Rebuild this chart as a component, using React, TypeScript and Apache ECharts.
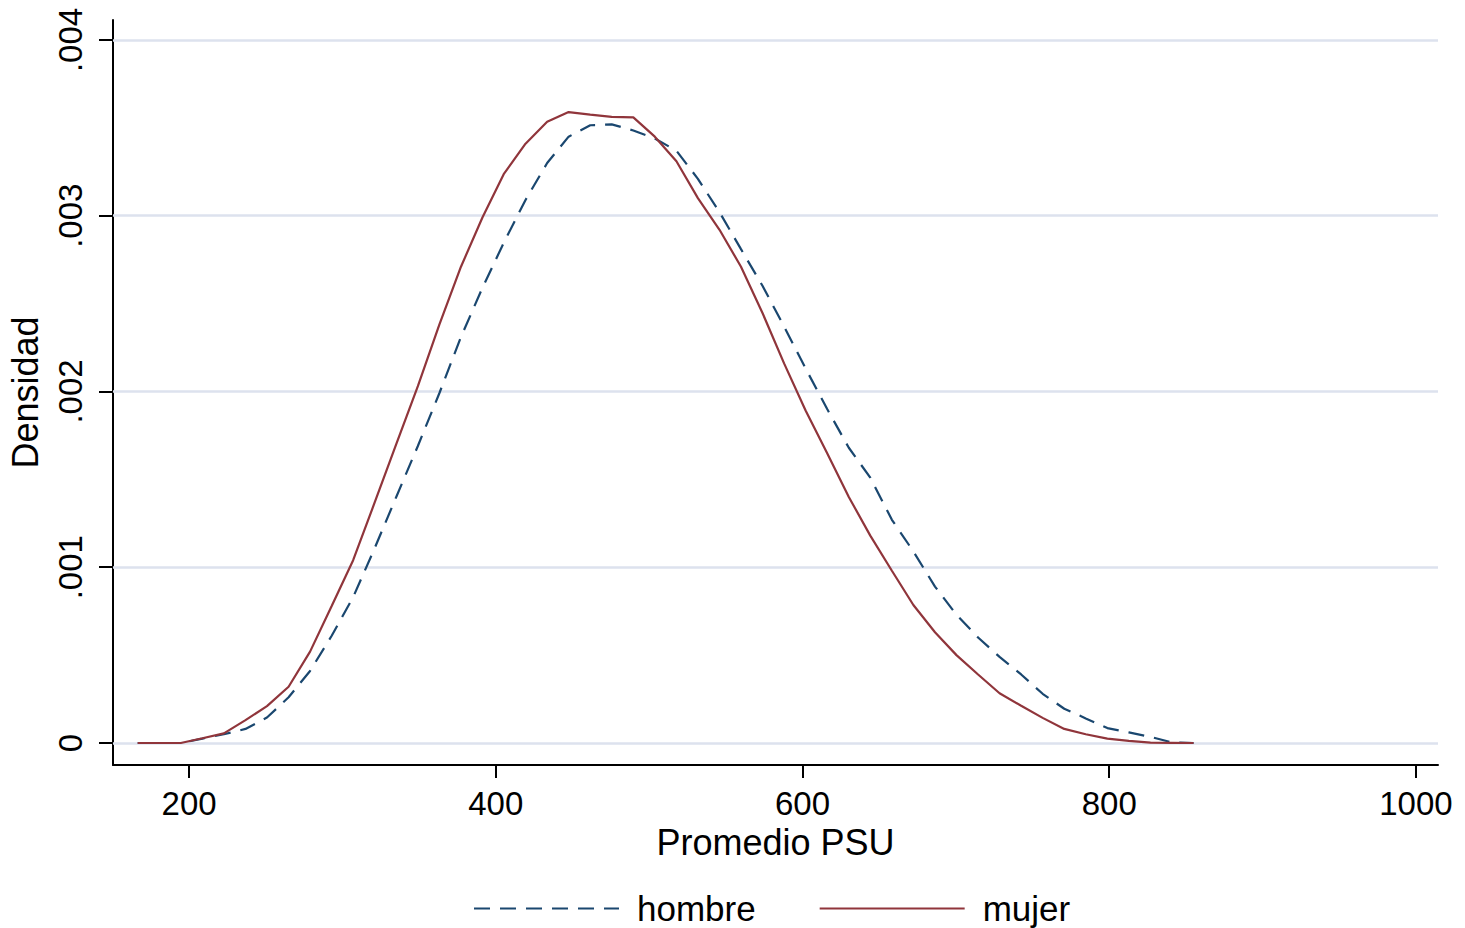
import React, { useEffect, useRef } from "react";
import * as echarts from "echarts";

// Kernel density evaluation points (Promedio PSU)
const psuPoints: number[] = [
  166.5, 180.6, 194.6, 208.7, 222.7, 236.8, 250.8, 264.9, 278.9, 293.0,
  307.0, 321.1, 335.1, 349.2, 363.2, 377.3, 391.3, 405.4, 419.4, 433.5,
  447.5, 461.6, 475.6, 489.7, 503.7, 517.8, 531.8, 545.9, 559.9, 574.0,
  588.0, 602.1, 616.1, 630.2, 644.2, 658.3, 672.3, 686.4, 700.4, 714.5,
  728.5, 742.6, 756.6, 770.7, 784.7, 798.8, 812.8, 826.9, 840.9, 855.0,
];

// Density, hombre
const hombreDensity: number[] = [
  0, 0, 0, 0.000025, 0.00005, 0.00008, 0.000145, 0.00026, 0.00041, 0.00061,
  0.00083, 0.00111, 0.0014, 0.00169, 0.00199, 0.00231, 0.00259, 0.00285, 0.00309, 0.0033,
  0.00345, 0.003515, 0.00352, 0.003485, 0.00344, 0.00337, 0.00321, 0.00302, 0.00281, 0.0026,
  0.00237, 0.00213, 0.0019, 0.00168, 0.00151, 0.00127, 0.00109, 0.00089, 0.00073, 0.0006,
  0.00049, 0.00039, 0.00028, 0.000195, 0.00014, 0.000085, 0.00006, 0.000035, 0.000003, 0,
];

// Density, mujer
const mujerDensity: number[] = [
  0, 0, 0, 0.000027, 0.000055, 0.00013, 0.00021, 0.00032, 0.00052, 0.00078,
  0.00104, 0.00137, 0.0017, 0.00203, 0.00238, 0.00271, 0.00299, 0.00324, 0.00341, 0.003535,
  0.00359, 0.003575, 0.003563, 0.00356, 0.00345, 0.00331, 0.0031, 0.00292, 0.00271, 0.002445,
  0.00216, 0.00189, 0.001648, 0.0014, 0.00118, 0.00098, 0.000785, 0.00063, 0.0005, 0.00039,
  0.000283, 0.000212, 0.000143, 0.00008, 0.00005, 0.000025, 0.000012, 0.000002, 0.000001, 0,
];

const xTickValues: number[] = [200, 400, 600, 800, 1000];
const yTickValues: number[] = [0, 0.001, 0.002, 0.003, 0.004];
const seriesNames: string[] = ["hombre", "mujer"];

const FONT = "'Liberation Sans', Arial, Helvetica, sans-serif";
const NAVY = "#1a476f";
const MAROON = "#90353b";

export default function App() {
  const ref = useRef<HTMLDivElement>(null);

  useEffect(() => {
    if (!ref.current) return;
    const chart = echarts.init(ref.current, undefined, { renderer: "svg" });

    const hombreData = psuPoints.map((x, i) => [x, hombreDensity[i]]);
    const mujerData = psuPoints.map((x, i) => [x, mujerDensity[i]]);

    const fmtY = (v: number) => {
      if (Math.abs(v) < 1e-12) return "0";
      return v.toFixed(3).replace(/^0/, "");
    };

    chart.setOption({
      animation: false,
      backgroundColor: "#ffffff",
      textStyle: { fontFamily: FONT },
      grid: {
        left: 113,
        right: 27,
        top: 20,
        bottom: 163,
        containLabel: false,
        outerBoundsMode: "none",
      },
      legend: {
        data: seriesNames,
        left: 468,
        top: 886,
        itemWidth: 145,
        itemHeight: 20,
        itemGap: 63,
        itemStyle: { opacity: 0 },
        textStyle: {
          fontFamily: FONT,
          fontSize: 35,
          color: "#000",
          padding: [0, 0, 0, 13],
        },
      },
      xAxis: {
        type: "value",
        min: 150.4,
        max: 1014.4,
        name: "Promedio PSU",
        nameLocation: "middle",
        nameGap: 58,
        nameTextStyle: { fontFamily: FONT, fontSize: 36, color: "#000" },
        axisLine: { show: true, onZero: false, lineStyle: { color: "#000", width: 2 } },
        axisTick: {
          show: true,
          length: 13,
          customValues: xTickValues,
          lineStyle: { color: "#000", width: 2 },
        },
        axisLabel: {
          customValues: xTickValues,
          fontFamily: FONT,
          fontSize: 33,
          color: "#000",
          margin: 22,
          formatter: (v: number) => String(v),
        },
        splitLine: { show: false },
      },
      yAxis: {
        type: "value",
        min: -0.0001252,
        max: 0.0041138,
        name: "Densidad",
        nameLocation: "middle",
        nameGap: 70,
        nameTextStyle: { fontFamily: FONT, fontSize: 36, color: "#000" },
        axisLine: { show: true, onZero: false, lineStyle: { color: "#000", width: 2 } },
        axisTick: {
          show: true,
          length: 14,
          customValues: yTickValues,
          lineStyle: { color: "#000", width: 2 },
        },
        axisLabel: {
          customValues: yTickValues,
          rotate: 90,
          fontFamily: FONT,
          fontSize: 33,
          color: "#000",
          margin: 26,
          formatter: fmtY,
        },
        splitLine: { show: false },
      },
      series: [
        {
          name: seriesNames[0],
          type: "line",
          data: hombreData,
          symbol: "none",
          z: 10,
          color: NAVY,
          lineStyle: { color: NAVY, width: 2.2, type: [16, 10] },
          markLine: {
            silent: true,
            z: 1,
            precision: 6,
            symbol: ["none", "none"],
            label: { show: false },
            emphasis: { disabled: true },
            lineStyle: { color: "#dde2ee", width: 2.5, type: "solid" },
            data: yTickValues.map((v) => ({ yAxis: v })),
          },
        },
        {
          name: seriesNames[1],
          type: "line",
          data: mujerData,
          symbol: "none",
          z: 11,
          color: MAROON,
          lineStyle: { color: MAROON, width: 2.2, type: "solid" },
        },
      ],
    });

    return () => {
      chart.dispose();
    };
  }, []);

  return (
    <div
      ref={ref}
      style={{ position: "fixed", left: 0, top: 0, width: 1465, height: 928, background: "#fff" }}
    />
  );
}
